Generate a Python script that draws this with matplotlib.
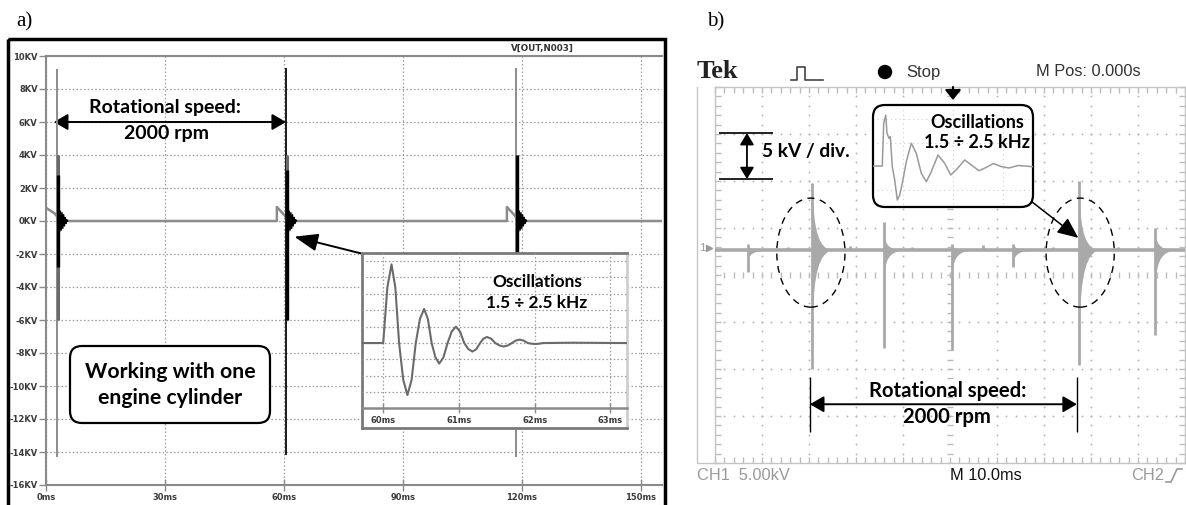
"""
Ignition coil secondary voltage: a) simulation, b) oscilloscope capture.
"""
import numpy as np
import matplotlib
matplotlib.use("Agg")
import matplotlib.pyplot as plt
from matplotlib.patches import Rectangle, FancyBboxPatch, Ellipse, Circle
from matplotlib.ticker import MultipleLocator, FixedLocator
from matplotlib.transforms import IdentityTransform

W, H = 1186, 505

# ---------------- panel a: simulated voltage V[OUT,N003] ----------------
xticks_a = [0, 30, 60, 90, 120, 150]            # ms
yticks_a = list(range(-16, 11, 2))              # kV
trace_a_t = [0.0, 2.2, 2.7, 3.1, 58.2, 58.2, 60.3, 60.8, 116.2, 116.2, 118.3, 118.8, 155.3]
trace_a_kv = [0.8, 0.45, 0.3, 0.0, 0.0, 0.85, 0.3, 0.0, 0.0, 0.85, 0.3, 0.0, 0.0]
spike_a_t = [2.8, 60.5, 118.5]
spike_a_hi = [9.2, 9.3, 9.3]
spike_a_lo = [-14.3, -14.2, -14.3]
burst_a_hi = [2.8, 3.1, 4.0]
burst_a_lo = [-2.8, -6.0, -5.5]
tail_dt = [0.0, 0.2, 0.4, 0.6, 0.8, 1.0, 1.2, 1.4, 1.6, 1.8, 2.0, 2.2]
tail_kv = [0.7, -0.65, 0.6, -0.55, 0.5, -0.45, 0.38, -0.3, 0.22, -0.15, 0.08, 0.0]

# zoomed oscillation (inset of panel a), y in grid divisions
osc_a_t = [59.72, 60.00, 60.055, 60.11, 60.16, 60.21, 60.265, 60.32, 60.375, 60.43,
           60.485, 60.54, 60.59, 60.64, 60.69, 60.74, 60.795, 60.85, 60.905, 60.96,
           61.015, 61.07, 61.125, 61.18, 61.23, 61.28, 61.325, 61.37, 61.425, 61.48,
           61.535, 61.59, 61.645, 61.70, 61.75, 61.80, 61.855, 61.91, 61.96, 62.01,
           62.06, 62.11, 62.5, 63.22]
osc_a_v = [0, 0, 3.4, 4.8, 3.4, 0, -2.25, -3.17, -2.25, 0,
           1.47, 2.08, 1.47, 0, -0.88, -1.25, -0.88, 0, 0.7, 1.0,
           0.7, 0, -0.37, -0.52, -0.37, 0, 0.27, 0.37, 0.27, 0,
           -0.15, -0.21, -0.15, 0, 0.15, 0.21, 0.15, 0, -0.04, -0.06,
           -0.04, 0, 0.02, 0]
xticks_osc_a = [60, 61, 62, 63]

# ---------------- panel b: oscilloscope capture (5 kV/div, 10 ms/div) ----------------
ch1_offset_div = 0.53
spike_b_t = [7.0, 20.6, 36.0, 50.4, 63.4, 77.4, 93.6]
spike_b_hi = [0.6, 7.1, 3.0, 0.6, 0.7, 7.4, 2.4]
spike_b_lo = [-2.3, -12.6, -10.4, -10.6, -1.8, -12.2, -9.0]
env_b_hi = [0.4, 6.1, 1.3, 0.5, 0.6, 5.5, 1.6]
env_b_lo = [-0.9, -7.2, -2.1, -2.1, -1.1, -7.8, -3.2]
env_dt = [0, 0.3, 0.6, 1.0, 1.5, 2.1, 2.8, 3.6]
env_frac = [1.0, 0.7, 0.48, 0.32, 0.2, 0.11, 0.05, 0.0]
glitch_b_t = [15.5, 28.7, 42.0, 57.0, 72.0, 85.7]
glitch_b_kv = [0.35, 0.4, 0.3, 0.5, 0.35, 0.3]
osc_b_t = [0, 9.3, 10.7, 12.7, 14.0, 16.0, 17.3, 19.3, 21.7, 24.3, 26.7, 29.3, 33.3,
           38.3, 43.3, 48.3, 53.3, 58.3, 65.0, 71.7, 77.7, 84.0, 91.7, 99.0, 106.0,
           113.0, 120.5, 128.0, 136.0, 145.0, 160.0]
osc_b_v = [0, 0, 42.7, 51.0, 32.7, 27.7, 29.3, -0.7, -14.0, -34.0, -29.0, -17.3, 4.3,
           22.7, 12.7, -7.3, -15.7, -5.7, 11.0, 2.7, -9.0, -3.0, 6.0, 0.5, -4.7,
           -1.5, 2.5, -0.5, -2.0, 0.5, -0.7]

BOLD = ["Lato", "DejaVu Sans"]
SCOPE = ["Liberation Sans", "DejaVu Sans"]


def px_rect(x0, y0, x1, y1):
    return [x0 / W, 1 - y1 / H, (x1 - x0) / W, (y1 - y0) / H]


fig = plt.figure(figsize=(W / 100, H / 100), dpi=100)
fig.patch.set_facecolor("white")

# ---- panel a main plot ----
ax_a = fig.add_axes(px_rect(46, 56, 662, 485), zorder=1)
ax_a.set_xlim(0, 155.3)
ax_a.set_ylim(-16, 10)
ax_a.set_xticks(xticks_a)
ax_a.set_xticklabels([f"{v}ms" for v in xticks_a])
ax_a.set_yticks(yticks_a)
ax_a.set_yticklabels([f"{v}KV" for v in yticks_a])
for s in ["left", "top", "bottom"]:
    ax_a.spines[s].set_color("#8a8a8a")
    ax_a.spines[s].set_linewidth(1.5)
ax_a.spines["right"].set_visible(False)
ax_a.tick_params(colors="#8a8a8a", labelcolor="#3a3a3a", labelsize=6, length=5, width=1, pad=1)
ax_a.tick_params(axis="x", direction="inout", length=8, pad=2)
for lab in ax_a.get_xticklabels() + ax_a.get_yticklabels():
    lab.set_fontweight("bold")
ax_a.grid(True, color="#9a9a9a", linestyle=(0, (1.2, 1.8)), linewidth=0.9)
ax_a.set_axisbelow(True)

ax_a.plot(trace_a_t, trace_a_kv, color="#8c8c8c", lw=1.8, zorder=3)
spike_cols = ["#8c8c8c", "#1a1a1a", "#8c8c8c"]
for t, hi, lo, bhi, blo, c in zip(spike_a_t, spike_a_hi, spike_a_lo, burst_a_hi, burst_a_lo, spike_cols):
    ax_a.vlines(t, lo, hi, color=c, lw=1.4, zorder=4)
    ax_a.vlines(t + 0.15, -6.0, 4.0, color="#6a6a6a", lw=2.2, zorder=4)
    ax_a.vlines(t + 0.3, blo, bhi, color="black", lw=2.4, zorder=5)
    ax_a.plot(t + 0.45 + np.array(tail_dt), tail_kv, color="black", lw=1.0, zorder=5)

ax_a.annotate("", xy=(2.0, 6), xytext=(60.5, 6),
              arrowprops=dict(arrowstyle="<|-|>,head_length=0.6,head_width=0.35",
                              mutation_scale=14, color="black", lw=1.4, shrinkA=0, shrinkB=0))
ax_a.annotate("", xy=(62.6, -0.95), xytext=(80.0, -2.0),
              arrowprops=dict(arrowstyle="-|>,head_length=0.8,head_width=0.3",
                              mutation_scale=18, color="black", lw=1.4, shrinkA=0, shrinkB=0))

# ---- panel a inset ----
bg_a = fig.add_axes(px_rect(362, 253, 627, 428), zorder=2)
bg_a.set_facecolor("white")
bg_a.set_xticks([])
bg_a.set_yticks([])
for s in bg_a.spines.values():
    s.set_color("#7a7a7a")
    s.set_linewidth(2)
bg_a.spines["right"].set_color("#cfcfcf")

ins_a = fig.add_axes(px_rect(362, 253, 627, 408), zorder=3)
ins_a.set_facecolor("none")
ins_a.set_xlim(59.72, 63.22)
ins_a.set_ylim(-3.96, 5.49)
ins_a.set_xticks(xticks_osc_a)
ins_a.set_xticklabels([f"{v}ms" for v in xticks_osc_a])
ins_a.set_yticks(range(-3, 6))
ins_a.set_yticklabels([])
ins_a.tick_params(axis="y", length=0)
ins_a.tick_params(axis="x", direction="inout", length=7, width=1, colors="#8a8a8a",
                  labelcolor="#3a3a3a", labelsize=6, pad=2)
for lab in ins_a.get_xticklabels():
    lab.set_fontweight("bold")
for s in ["left", "top", "right"]:
    ins_a.spines[s].set_visible(False)
ins_a.spines["bottom"].set_color("#8a8a8a")
ins_a.spines["bottom"].set_linewidth(1.8)
ins_a.grid(True, color="#9a9a9a", linestyle=(0, (1.2, 1.8)), linewidth=0.9)
ins_a.plot(osc_a_t, osc_a_v, color="#6b6b6b", lw=1.5)

# ---- panel b scope screen ----
ylim_b = (-20 - ch1_offset_div * 5, 20 - ch1_offset_div * 5)
ax_b = fig.add_axes(px_rect(715, 87, 1185, 463), zorder=1)
ax_b.set_xlim(0, 100)
ax_b.set_ylim(*ylim_b)
ax_b.set_xticks(np.arange(0, 101, 10))
ax_b.xaxis.set_minor_locator(MultipleLocator(2))
ax_b.set_yticks(np.arange(ylim_b[0], ylim_b[1] + 0.01, 5))
ax_b.yaxis.set_minor_locator(FixedLocator(np.arange(ylim_b[0], ylim_b[1] + 0.01, 1)))
ax_b.tick_params(which="both", direction="in", top=True, right=True, labelbottom=False,
                 labelleft=False, color="#bdbdbd", length=4, width=1)
for s in ax_b.spines.values():
    s.set_color("#c4c4c4")
    s.set_linewidth(1)

xs_fine = np.arange(0, 100.01, 2)
ys_fine = np.arange(ylim_b[0], ylim_b[1] + 0.01, 1)
for i in range(1, 10):
    if i == 5:
        ax_b.scatter(np.full(ys_fine.size, 50), ys_fine, marker="_", s=14, color="#bbbbbb", lw=1, zorder=1)
    else:
        ax_b.scatter(np.full(ys_fine.size, 10 * i), ys_fine, s=1.8, color="#b5b5b5", lw=0, zorder=1)
for j in range(1, 8):
    yv = ylim_b[0] + 5 * j
    if j == 4:
        ax_b.scatter(xs_fine, np.full(xs_fine.size, yv), marker="|", s=14, color="#bbbbbb", lw=1, zorder=1)
    else:
        ax_b.scatter(xs_fine, np.full(xs_fine.size, yv), s=1.8, color="#b5b5b5", lw=0, zorder=1)

trace_col = "#a9a9a9"
ax_b.plot([0, 100], [0, 0], color=trace_col, lw=2.6, zorder=3)
for t, hi, lo, eh, el in zip(spike_b_t, spike_b_hi, spike_b_lo, env_b_hi, env_b_lo):
    ax_b.vlines(t, lo, hi, color=trace_col, lw=2.0, zorder=3)
    et = t + np.array(env_dt)
    ax_b.fill_between(et, np.array(env_frac) * el, np.array(env_frac) * eh,
                      color=trace_col, lw=0, zorder=3)
ax_b.vlines(glitch_b_t, 0, glitch_b_kv, color=trace_col, lw=2.0, zorder=3)

for cx in [20.4, 77.7]:
    ax_b.add_patch(Ellipse((cx, -0.27), 14.5, 11.6, fill=False, ec="black", lw=1.0,
                           ls=(0, (5, 4)), zorder=4))

ax_b.annotate("", xy=(77.3, 1.3), xytext=(67.0, 5.3),
              arrowprops=dict(arrowstyle="-|>,head_length=0.8,head_width=0.35",
                              mutation_scale=16, color="black", lw=1.1, shrinkA=0, shrinkB=0))
# 5 kV / div marker
ax_b.hlines([12.45, 7.55], 0.85, 12.3, color="#222222", lw=1.4, zorder=4)
ax_b.annotate("", xy=(6.8, 12.45), xytext=(6.8, 7.55),
              arrowprops=dict(arrowstyle="<|-|>,head_length=0.5,head_width=0.3",
                              mutation_scale=14, color="black", lw=1.3, shrinkA=0, shrinkB=0))
# rotational speed marker
ax_b.vlines([20.2, 77.0], -19.4, -13.5, color="black", lw=1.0, zorder=4)
ax_b.annotate("", xy=(20.2, -16.4), xytext=(77.0, -16.4),
              arrowprops=dict(arrowstyle="<|-|>,head_length=0.6,head_width=0.35",
                              mutation_scale=14, color="black", lw=1.4, shrinkA=0, shrinkB=0))

# inset box of panel b (below the inset axes)
fig.add_artist(FancyBboxPatch((873, H - 207), 160, 102, boxstyle="round,pad=0,rounding_size=12",
                              transform=IdentityTransform(), fc="white", ec="black", lw=1.6, zorder=2))
ins_b = fig.add_axes(px_rect(873, 105, 1033, 207), zorder=3)
ins_b.set_facecolor("none")
ins_b.axis("off")
ins_b.set_xlim(0, 160)
ins_b.set_ylim(-41, 61)
for gy in [-24, 23, 47]:
    ins_b.plot([4, 156], [gy, gy], color="#d0d0d0", lw=0.8, ls=(0, (1, 3)))
for gx in [30, 80, 130]:
    ins_b.plot([gx, gx], [-38, 58], color="#d0d0d0", lw=0.8, ls=(0, (1, 3)))
ins_b.plot(osc_b_t, osc_b_v, color="#9a9a9a", lw=1.1)

# ---- overlay: frames, labels, annotations ----
ov = fig.add_axes([0, 0, 1, 1], zorder=10)
ov.set_xlim(0, W)
ov.set_ylim(H, 0)
ov.axis("off")

ov.add_patch(Rectangle((8, 39), 657, 500, fill=False, ec="black", lw=2.5, clip_on=False))
ov.text(16, 22, "a)", fontsize=15, family="Liberation Serif", va="center", ha="left")
ov.text(707, 22, "b)", fontsize=15, family="Liberation Serif", va="center", ha="left")
ov.text(542, 48, "V[OUT,N003]", fontsize=6.3, fontweight="bold", color="#333333", ha="center", va="center")

ov.text(165, 107, "Rotational speed:", fontsize=14, family=BOLD, fontweight="bold", ha="center", va="center")
ov.text(166, 133, "2000 rpm", fontsize=14, family=BOLD, fontweight="bold", ha="center", va="center")

ov.add_patch(FancyBboxPatch((70, 346), 200, 77, boxstyle="round,pad=0,rounding_size=12",
                            fc="white", ec="black", lw=1.6))
ov.text(170, 372, "Working with one", fontsize=15.3, family=BOLD, fontweight="bold", ha="center", va="center")
ov.text(170, 398, "engine cylinder", fontsize=15.3, family=BOLD, fontweight="bold", ha="center", va="center")

ov.text(537, 282, "Oscillations", fontsize=12.4, family=BOLD, fontweight="bold", ha="center", va="center")
ov.text(537, 303, "1.5 \u00f7 2.5 kHz", fontsize=12.4, family=BOLD, fontweight="bold", ha="center", va="center")

# scope header and footer
ov.text(697, 72, "Tek", fontsize=19, family="Liberation Serif", fontweight="bold", color="#222222",
        ha="left", va="center")
ov.plot([791, 797, 797, 805, 805, 823], [80, 80, 67, 67, 80, 80], color="#444444", lw=1.2)
ov.add_patch(Circle((885, 72), 6.5, color="black"))
ov.text(906, 72, "Stop", fontsize=12, family=SCOPE, color="#333333", ha="left", va="center")
ov.text(1036, 72, "M Pos: 0.000s", fontsize=11.8, family=SCOPE, color="#333333", ha="left", va="center")
ov.annotate("", xy=(953, 100), xytext=(953, 87),
            arrowprops=dict(arrowstyle="-|>,head_length=0.5,head_width=0.4",
                            mutation_scale=12, color="black", lw=1.5, shrinkA=0, shrinkB=0))
ov.plot([697, 697, 715], [87, 463, 463], color="#c4c4c4", lw=1)
ov.text(699, 248, "1", fontsize=8, family=SCOPE, color="#999999", ha="left", va="center")
ov.plot([709], [248], marker=">", ms=4, color="#999999")
ov.text(697, 476, "CH1  5.00kV", fontsize=11.8, family=SCOPE, color="#9a9a9a", ha="left", va="center")
ov.text(950, 476, "M 10.0ms", fontsize=11.8, family=SCOPE, color="#111111", ha="left", va="center")
ov.text(1131, 476, "CH2", fontsize=11.8, family=SCOPE, color="#9a9a9a", ha="left", va="center")
ov.plot([1166, 1171, 1177, 1182], [482, 482, 469, 469], color="#9a9a9a", lw=1.2)

ov.text(762, 152, "5 kV / div.", fontsize=13.8, family=BOLD, fontweight="bold", ha="left", va="center")
ov.text(977, 122, "Oscillations", fontsize=13, family=BOLD, fontweight="bold", ha="center", va="center")
ov.text(977, 142, "1.5 \u00f7 2.5 kHz", fontsize=13, family=BOLD, fontweight="bold", ha="center", va="center")
ov.text(948, 391, "Rotational speed:", fontsize=14.6, family=BOLD, fontweight="bold", ha="center", va="center")
ov.text(947, 417, "2000 rpm", fontsize=14.6, family=BOLD, fontweight="bold", ha="center", va="center")

fig.savefig("out.png", dpi=100, facecolor="white")
plt.close(fig)
